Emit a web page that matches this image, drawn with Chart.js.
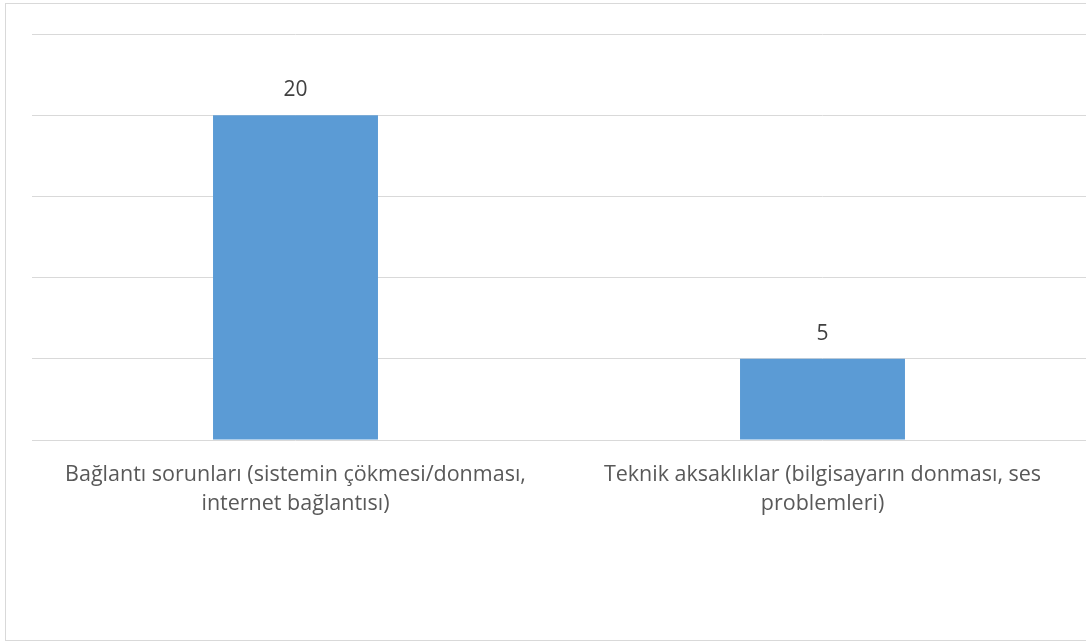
<!DOCTYPE html>
<html>
<head>
<meta charset="utf-8">
<script src="https://cdn.jsdelivr.net/npm/chart.js@4/dist/chart.umd.min.js"></script>
<style>
    body { margin: 0; background: #fff; }
    .frame { position: absolute; left: 5px; top: 3px; width: 1090px; height: 636px; border: 1px solid #d9d9d9; }
    .wrap { position: absolute; left: 0; top: 0; width: 1086px; height: 642px; }
</style>
</head>
<body>
<div class="frame"></div>
<div class="wrap"><canvas id="chart" width="1086" height="642"></canvas></div>
<script>
const categories = [
    ['Bağlantı sorunları (sistemin çökmesi/donması,', 'internet bağlantısı)'],
    ['Teknik aksaklıklar (bilgisayarın donması, ses', 'problemleri)']
];
const counts = [20, 5];
const yMax = 25;
const yStep = 5;

// value labels above the bars
const valueLabels = {
    id: 'valueLabels',
    afterDatasetsDraw(chart) {
        const ctx = chart.ctx;
        const meta = chart.getDatasetMeta(0);
        ctx.save();
        ctx.font = '21px "Open Sans"';
        ctx.fillStyle = '#404040';
        ctx.textAlign = 'center';
        ctx.textBaseline = 'alphabetic';
        meta.data.forEach((bar, i) => {
            ctx.fillText(String(counts[i]), bar.x, bar.y - 19);
        });
        ctx.restore();
    }
};

new Chart(document.getElementById('chart').getContext('2d'), {
    type: 'bar',
    data: {
        labels: categories,
        datasets: [{
            data: counts,
            backgroundColor: '#5b9bd5',
            borderWidth: 0,
            categoryPercentage: 1,
            barPercentage: 0.313
        }]
    },
    options: {
        responsive: false,
        animation: false,
        layout: { padding: { top: 34, right: 0, bottom: 0, left: 0 } },
        plugins: {
            legend: { display: false },
            tooltip: { enabled: false }
        },
        scales: {
            x: {
                grid: { display: false },
                border: { display: false },
                ticks: {
                    color: '#595959',
                    font: { family: 'Open Sans', size: 21.5, lineHeight: 1.35 },
                    padding: 12,
                    maxRotation: 0,
                    autoSkip: false
                },
                afterFit(scale) { scale.height = 202; }
            },
            y: {
                min: 0,
                max: yMax,
                ticks: { display: false, stepSize: yStep },
                grid: { color: '#d9d9d9', lineWidth: 1, drawTicks: false },
                border: { display: false },
                afterFit(scale) { scale.width = 32; }
            }
        }
    },
    plugins: [valueLabels]
});
</script>
</body>
</html>
